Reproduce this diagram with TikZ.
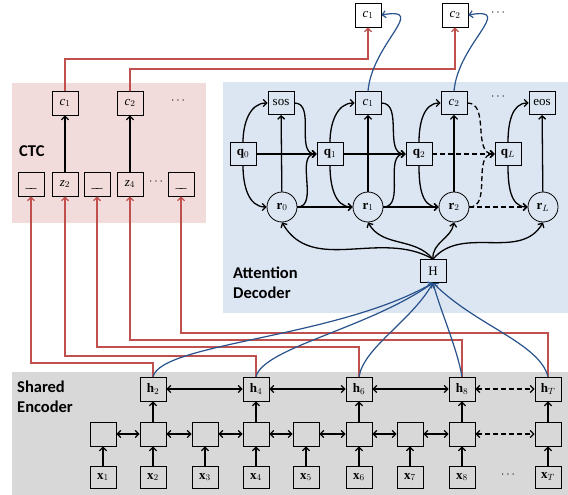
\documentclass[tikz,border=0pt]{standalone}
\usepackage{fontspec}
\setmainfont{Liberation Serif}
\newfontfamily\lblfont{Carlito}
\usetikzlibrary{arrows.meta}
\definecolor{pinkbg}{RGB}{242,220,219}
\definecolor{bluebg}{RGB}{220,230,242}
\definecolor{graybg}{RGB}{216,216,216}
\definecolor{redl}{RGB}{192,80,77}
\definecolor{bluel}{RGB}{40,82,140}
\begin{document}
\begin{tikzpicture}[x=1pt,y=-1pt,
  bx/.style={draw,line width=0.8pt,minimum width=26pt,minimum height=24pt,inner sep=0pt,font=\fontsize{13}{15}\selectfont},
  sbx/.style={bx,minimum height=23pt},
  wbx/.style={bx,fill=white},
  cir/.style={draw,circle,line width=0.8pt,minimum size=30pt,inner sep=0pt,font=\fontsize{13}{15}\selectfont},
  tip/.tip={Straight Barb[length=3.5pt,width=7pt]},
  arr/.style={line width=1.3pt,-tip},
  darr/.style={line width=1.3pt,tip-tip},
  dsh/.style={dash pattern=on 5pt off 3pt},
  rl/.style={draw=redl,line width=1.2pt,-tip},
  bl/.style={draw=bluel,line width=1.2pt,-tip},
  dts/.style={font=\fontsize{12}{14}\selectfont},
  lbl/.style={font=\lblfont\bfseries\fontsize{16.5}{20}\selectfont,align=left,inner sep=0pt}
]
\fill[white] (0,0) rectangle (568,495);
\useasboundingbox (0,0) rectangle (568,495);
\fill[pinkbg] (12,83) rectangle (206,223);
\fill[bluebg] (223,82) rectangle (568,313);
\fill[graybg] (12,372) rectangle (568,495);

% top outputs
\node[wbx] (tc1) at (368,15) {\textit{c}$_1$};
\node[wbx] (tc2) at (455,15) {\textit{c}$_2$};
\node[dts] (tdots) at (498,13) {$\cdots$};

% CTC
\node[bx] (cc1) at (65,103) {\textit{c}$_1$};
\node[bx] (cc2) at (130,103) {\textit{c}$_2$};
\node[dts] (cdots) at (178,101) {$\cdots$};
\node[bx] (b1) at (31,184) {\strut\_\kern-2pt\_};
\node[bx] (z2) at (65,184) {\textit{z}$_2$};
\node[bx] (b3) at (97,184) {\strut\_\kern-2pt\_};
\node[bx] (z4) at (130,184) {\textit{z}$_4$};
\node[dts] (zdots) at (156,182) {$\cdots$};
\node[bx] (b5) at (181,184) {\strut\_\kern-2pt\_};
\node[lbl,anchor=west] (ctc) at (19,151) {CTC};

% Attention decoder
\node[sbx] (sos) at (281,103) {sos};
\node[sbx] (ac1) at (368,103) {\textit{c}$_1$};
\node[sbx] (ac2) at (454,103) {\textit{c}$_2$};
\node[dts] (adots) at (498,97) {$\cdots$};
\node[sbx] (eos) at (542,103) {eos};
\node[sbx] (q0) at (243,154) {\textbf{q}$_0$};
\node[sbx] (q1) at (330,154) {\textbf{q}$_1$};
\node[sbx] (q2) at (419,154) {\textbf{q}$_2$};
\node[sbx] (qL) at (508,154) {\textbf{q}$_L$};
\node[cir] (r0) at (282,207) {\textbf{r}$_0$};
\node[cir] (r1) at (368,207) {\textbf{r}$_1$};
\node[cir] (r2) at (454,207) {\textbf{r}$_2$};
\node[cir] (rL) at (543,207) {\textbf{r}$_L$};
\node[sbx] (H) at (433,271) {H};
\node[lbl,anchor=west] (att) at (233,283) {Attention\\Decoder};

% Encoder
\node[lbl,anchor=west] (enc) at (17,397) {Shared\\Encoder};
\foreach \n/\x in {2/153,4/256,6/359,8/462,T/548}
  \node[bx] (h\n) at (\x,389) {\textbf{h}$_\n$};
\foreach \n/\x in {1/103,2/153,3/205,4/256,5/306,6/359,7/410,8/462,T/548}{
  \node[bx] (e\n) at (\x,434) {};
  \node[bx,minimum height=22pt] (x\n) at (\x,477) {\textbf{x}$_\n$};
}
\node[dts] (xdots) at (508,475) {$\cdots$};

% encoder arrows
\foreach \n in {1,2,3,4,5,6,7,8,T}
  \draw[arr] (x\n) -- (e\n);
\foreach \a/\b in {1/2,2/3,3/4,4/5,5/6,6/7,7/8}
  \draw[darr] (e\a) -- (e\b);
\draw[darr,dsh] (e8) -- (eT);
\foreach \n in {2,4,6,8,T}
  \draw[arr] (e\n) -- (h\n);
\foreach \a/\b in {2/4,4/6,6/8}
  \draw[darr] (h\a) -- (h\b);
\draw[darr,dsh] (h8) -- (hT);

% CTC arrows
\draw[arr] (z2) -- (cc1);
\draw[arr] (z4) -- (cc2);

% red connectors
\draw[rl] (cc1.north) -- (cc1.north |- 0,59) -| (tc1.south);
\draw[rl] (cc2.north) -- (cc2.north |- 0,69) -| (tc2.south);
\draw[rl] (h2.north) -- (h2.north |- 0,363) -| (b1.south);
\draw[rl] (h4.north) -- (h4.north |- 0,356) -| (z2.south);
\draw[rl] (h6.north) -- (h6.north |- 0,347) -| (b3.south);
\draw[rl] (h8.north) -- (h8.north |- 0,340) -| (z4.south);
\draw[rl] (hT.north) -- (hT.north |- 0,333) -| (b5.south);

% blue connectors
\draw[bl] (h2.north) to[out=75,in=-150,out distance=35pt,in distance=110pt] (H.south);
\draw[bl] (h4.north) to[out=75,in=-145,out distance=30pt,in distance=80pt] (H.south);
\draw[bl] (h6.north) to[out=80,in=-120,out distance=30pt,in distance=45pt] (H.south);
\draw[bl] (h8.north) to[out=100,in=-75,out distance=30pt,in distance=30pt] (H.south);
\draw[bl] (hT.north) to[out=105,in=-45,out distance=35pt,in distance=60pt] (H.south);
\draw[bl] (ac1.north) to[out=85,in=10,looseness=1.6] (tc1.east);
\draw[bl] (ac2.north) to[out=85,in=10,looseness=1.6] (tc2.east);

% attention decoder
\draw[arr] (q0) -- (q1);
\draw[arr] (q1) -- (q2);
\draw[arr,dsh] (q2) -- (qL);
\draw[arr] (r0) -- (r1);
\draw[arr] (r1) -- (r2);
\draw[arr,dsh] (r2) -- (rL);
\draw[arr] (r0) -- (sos);
\draw[arr] (r1) -- (ac1);
\draw[arr] (r2) -- (ac2);
\draw[arr] (rL) -- (eos);
\foreach \q/\t/\r in {q0/sos/r0,q1/ac1/r1,q2/ac2/r2,qL/eos/rL}{
  \draw[arr] (\q.north) to[out=90,in=180] (\t.west);
  \draw[arr] (\q.south) to[out=-90,in=180] (\r.west);
}
\draw[arr] (sos.east) to[out=0,in=180] (q1.west);
\draw[arr] (r0.east) to[out=0,in=180] (q1.west);
\draw[arr] (ac1.east) to[out=0,in=180] (q2.west);
\draw[arr] (r1.east) to[out=0,in=180] (q2.west);
\draw[arr,dsh] (ac2.east) to[out=0,in=180] (qL.west);
\draw[arr,dsh] (r2.east) to[out=0,in=180] (qL.west);
\draw[arr] (H.north) to[out=150,in=-60] (r0.south);
\draw[arr] (H.north) to[out=130,in=-60] (r1.south);
\draw[arr] (H.north) to[out=95,in=-100] (r2.south);
\draw[arr] (H.north) to[out=50,in=-120] (rL.south);
\end{tikzpicture}
\end{document}
